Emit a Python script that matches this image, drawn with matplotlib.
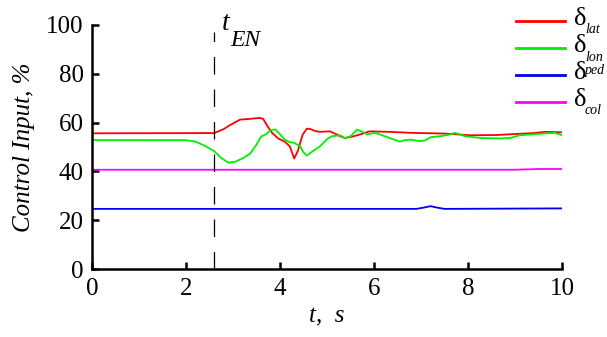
import numpy as np
import matplotlib
matplotlib.use("Agg")
import matplotlib.pyplot as plt
from matplotlib.lines import Line2D

plt.rcParams['font.family'] = 'Liberation Serif'
plt.rcParams['mathtext.fontset'] = 'custom'
plt.rcParams['mathtext.rm'] = 'Liberation Serif'
plt.rcParams['mathtext.it'] = 'Liberation Serif:italic'

# control inputs, percent of full travel
t_lat = [0, 2.6, 2.8, 2.94, 3.15, 3.36, 3.57, 3.64, 3.74, 3.83, 3.96, 4.1, 4.21, 4.3,
         4.38, 4.48, 4.57, 4.65, 4.75, 4.85, 5.06, 5.2, 5.28, 5.38, 5.55, 5.7, 5.9,
         6.34, 6.77, 7.5, 8.04, 8.6, 9.1, 9.4, 9.64, 10]
v_lat = [55.6, 55.7, 57.3, 59.0, 61.2, 61.5, 61.9, 61.5, 58.3, 55.8, 53.5, 52.2, 50.2, 45.3,
         48.5, 55.0, 57.5, 57.3, 56.5, 56.2, 56.4, 55.2, 54.4, 53.7, 54.3, 55.1, 56.4,
         56.2, 55.8, 55.5, 54.8, 54.9, 55.4, 55.7, 56.2, 56.0]

t_lon = [0, 2.0, 2.2, 2.4, 2.6, 2.75, 2.9, 3.05, 3.2, 3.36, 3.5, 3.6, 3.7, 3.8, 3.9,
         4.0, 4.1, 4.2, 4.3, 4.43, 4.5, 4.57, 4.7, 4.85, 5.0, 5.1, 5.28, 5.38, 5.5,
         5.64, 5.75, 5.85, 6.02, 6.23, 6.4, 6.55, 6.66, 6.77, 6.98, 7.09, 7.2, 7.4,
         7.62, 7.72, 7.94, 8.26, 8.68, 8.9, 9.1, 9.53, 9.85, 10]
v_lon = [52.8, 52.8, 52.2, 50.5, 48.3, 45.5, 43.6, 44.0, 45.3, 47.2, 51.0, 54.3, 55.2,
         56.9, 57.2, 55.2, 53.0, 52.0, 51.7, 50.3, 47.8, 46.5, 48.3, 50.3, 53.2, 54.4,
         54.8, 53.5, 54.4, 57.1, 56.3, 55.1, 55.8, 54.4, 53.2, 52.2, 52.8, 53.0, 52.4,
         52.7, 54.0, 54.4, 55.1, 55.8, 54.4, 53.7, 53.5, 53.7, 54.8, 55.4, 55.8, 54.8]

t_ped = [0, 6.9, 7.05, 7.2, 7.35, 7.5, 10]
v_ped = [24.7, 24.7, 25.2, 25.8, 25.2, 24.7, 24.9]

t_col = [0, 9.0, 9.5, 10]
v_col = [40.7, 40.7, 41.0, 41.0]

t_en = 2.6

W, H = 607, 337
fig = plt.figure(figsize=(W / 100, H / 100), dpi=100)
ax = fig.add_axes([0.1516, 0.2009, 0.7744, 0.7258])

series = [
    (t_lat, v_lat, '#ff0000', 'lat', 'sub'),
    (t_lon, v_lon, '#00ee00', 'lon', 'sub'),
    (t_ped, v_ped, '#0000ee', 'ped', 'sup'),
    (t_col, v_col, '#ff00ff', 'col', 'sub'),
]
for t, v, c, name, pos in series:
    ax.plot(t, v, color=c, lw=1.3)

# engine failure instant
ax.plot([t_en, t_en], [0, 97], color='black', lw=0.9, dashes=(14, 12))
ax.text(t_en + 0.17, 100.3, 't', fontsize=20, style='italic', va='center')
ax.text(t_en + 0.34, 93.7, 'EN', fontsize=17, style='italic', va='center')

ax.set_xlim(0, 10)
ax.set_ylim(0, 100)
ax.set_xticks(np.arange(0, 11, 2))
ax.set_yticks(np.arange(0, 101, 20))
ax.tick_params(direction='in', length=5, width=1.8, labelsize=18, pad=6)
for s in ['top', 'right']:
    ax.spines[s].set_visible(False)
for s in ['left', 'bottom']:
    ax.spines[s].set_linewidth(1.8)

ax.set_xlabel('t,  s', fontsize=18, style='italic', labelpad=4)
ax.set_ylabel('Control Input, %', fontsize=18, style='italic', labelpad=8)

# legend keys drawn by hand so the indices can sit like the symbols do
rows = [20.7, 48.3, 74.7, 101.7]
for (t, v, c, name, pos), yr in zip(series, rows):
    y = 1 - yr / H
    fig.add_artist(Line2D([516 / W, 565 / W], [y, y], color=c, lw=2,
                          transform=fig.transFigure))
    fig.text(573 / W, 1 - (yr - 2) / H, r'$\mathrm{\delta}$', fontsize=19,
             va='center', ha='left')
    dy = -4 if pos == 'sup' else 9
    fig.text(585 / W, 1 - (yr + dy) / H, name, fontsize=10, style='italic',
             va='center', ha='left')

fig.savefig('out.png', dpi=100)
